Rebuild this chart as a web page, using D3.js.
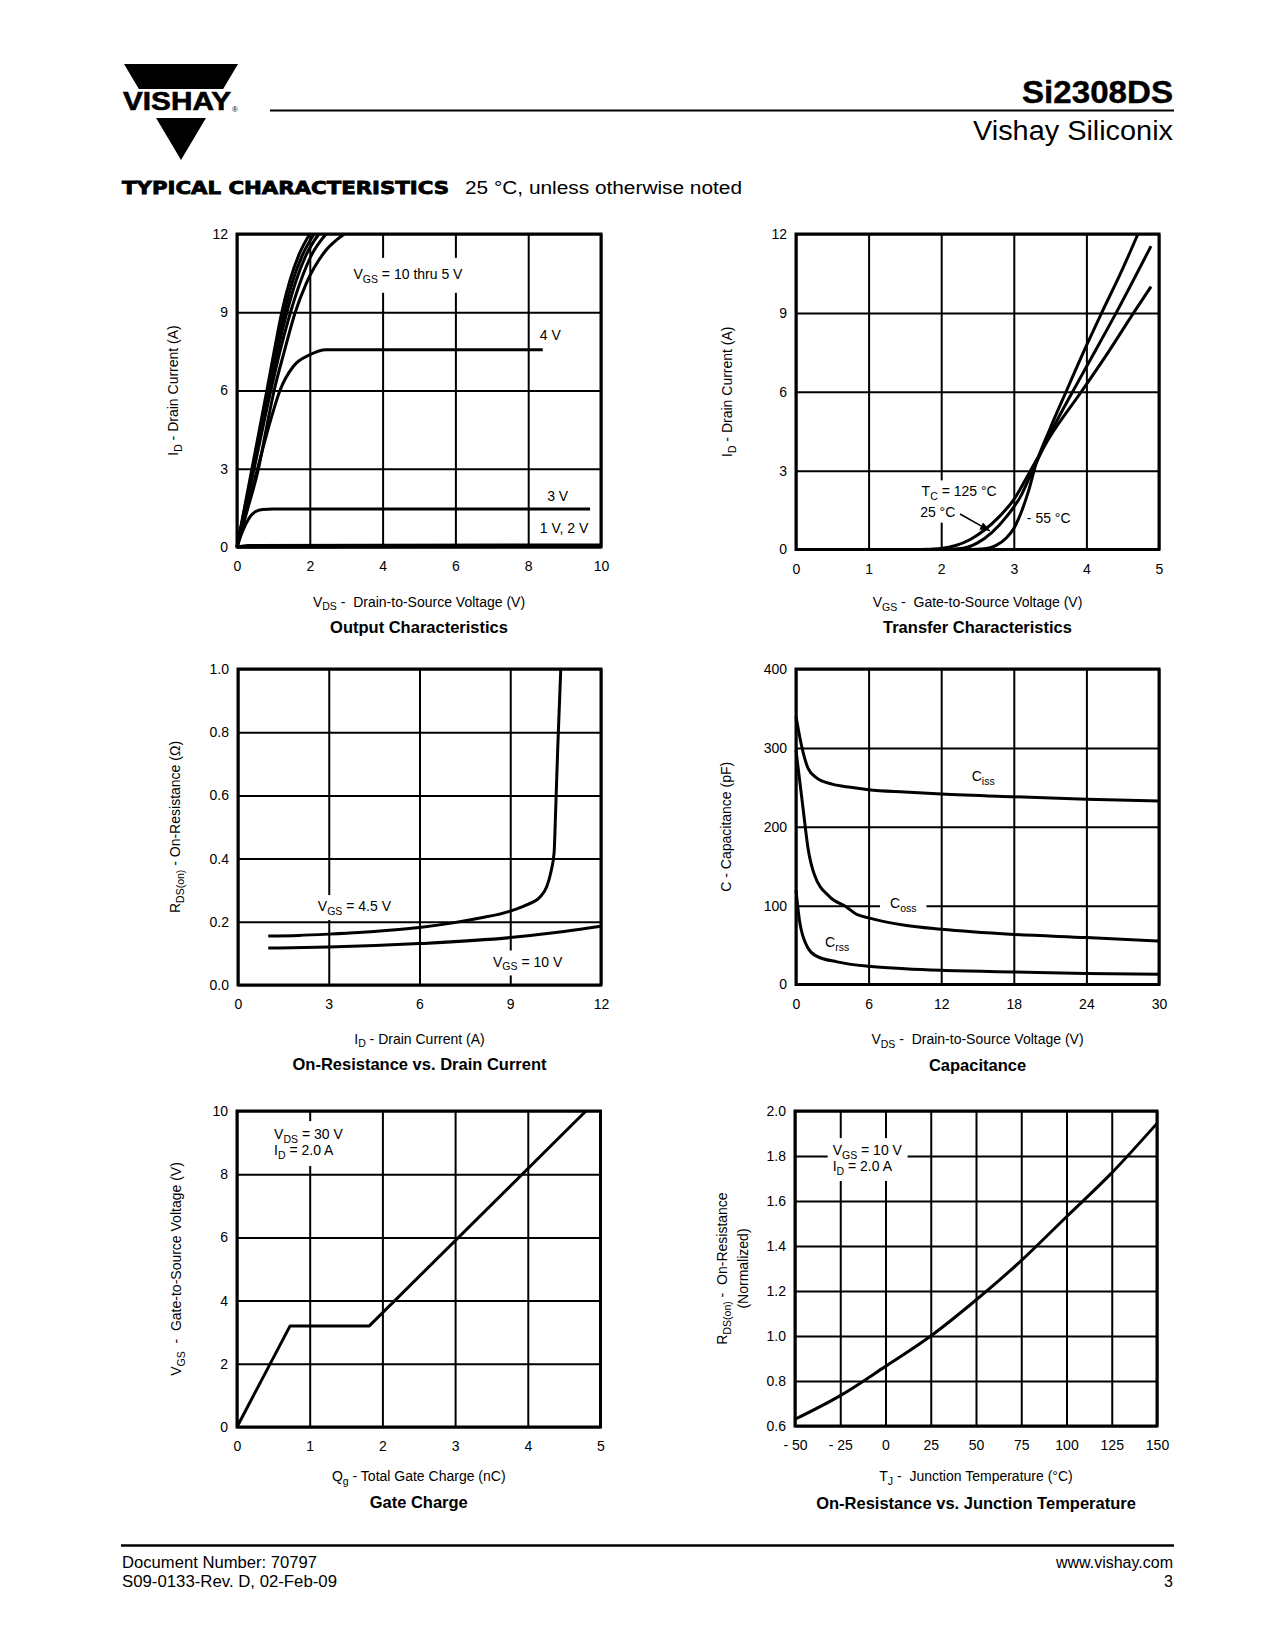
<!DOCTYPE html>
<html>
<head>
<meta charset="utf-8">
<script src="https://cdn.jsdelivr.net/npm/d3@7"></script>
<style>
  body { margin: 0; background: #fff; }
  svg text { font-family: "Liberation Sans", Arial, Helvetica, sans-serif; fill: #000; }
</style>
</head>
<body>
<div id="page"></div>
<script>
// values

// Output Characteristics: [V_DS (V), I_D (A)]
var outTicksX = [0, 2, 4, 6, 8, 10];
var outTicksY = [0, 3, 6, 9, 12];
var outVgs10 = [[0, 0], [0.41, 3], [0.82, 6], [1.02, 7.5], [1.23, 9], [1.45, 10.2], [1.7, 11.2], [2.0, 12]];
var outVgs8 = [[0, 0], [0.43, 3], [0.85, 6], [1.07, 7.5], [1.3, 9], [1.53, 10.2], [1.8, 11.2], [2.12, 12]];
var outVgs7 = [[0, 0], [0.45, 3], [0.88, 6], [1.11, 7.5], [1.37, 9], [1.62, 10.2], [1.9, 11.2], [2.25, 12]];
var outVgs6 = [[0, 0], [0.47, 3], [0.93, 6], [1.18, 7.5], [1.47, 9], [1.75, 10.2], [2.05, 11.2], [2.45, 12]];
var outVgs5 = [[0, 0], [0.3, 1.5], [0.59, 3], [0.8, 4.5], [1.02, 6], [1.3, 7.5], [1.6, 9], [1.9, 10.1], [2.4, 11.3], [2.95, 12]];
var outVgs4 = [[0, 0], [0.3, 1.6], [0.62, 3.3], [0.91, 4.8], [1.18, 6.0], [1.55, 6.93], [2.0, 7.37], [2.45, 7.56], [8.4, 7.56]];
var outVgs3 = [[0, 0], [0.15, 0.6], [0.32, 1.08], [0.5, 1.35], [0.7, 1.44], [1.0, 1.46], [9.7, 1.46]];
var outVgs2 = [[0, 0], [0.3, 0.06], [10, 0.08]];
var outVgs1 = [[0, 0], [10, 0.02]];

// Transfer Characteristics: [V_GS (V), I_D (A)]
var trTicksX = [0, 1, 2, 3, 4, 5];
var trTicksY = [0, 3, 6, 9, 12];
var trTc125 = [[0, 0], [1.7, 0], [2.0, 0.04], [2.2, 0.15], [2.4, 0.38], [2.6, 0.75], [2.8, 1.25], [3.0, 1.9], [3.22, 2.95], [3.5, 4.3], [3.93, 6], [4.3, 7.5], [4.65, 9], [4.89, 10.0]];
var trTc25 = [[0, 0], [2.0, 0], [2.3, 0.05], [2.5, 0.25], [2.7, 0.65], [2.9, 1.25], [3.1, 2.05], [3.25, 2.95], [3.5, 4.4], [3.81, 6], [4.0, 6.95], [4.41, 9], [4.89, 11.54]];
var trTcM55 = [[0, 0], [2.4, 0], [2.6, 0.03], [2.75, 0.15], [2.9, 0.45], [3.0, 0.8], [3.1, 1.4], [3.2, 2.2], [3.3, 3.2], [3.5, 4.6], [3.72, 6], [4.0, 7.75], [4.21, 9], [4.47, 10.5], [4.71, 12]];

// On-Resistance vs. Drain Current: [I_D (A), R_DS(on) (ohm)]
var ronTicksX = [0, 3, 6, 9, 12];
var ronTicksY = [0, 0.2, 0.4, 0.6, 0.8, 1.0];
var ronVgs45 = [[1, 0.155], [2, 0.157], [3, 0.161], [4, 0.166], [5, 0.173], [6, 0.182], [7, 0.195], [8, 0.212], [9, 0.234], [9.5, 0.252], [10, 0.28], [10.2, 0.31], [10.35, 0.36], [10.45, 0.42], [10.5, 0.55], [10.57, 0.75], [10.67, 1.0]];
var ronVgs10 = [[1, 0.117], [3, 0.12], [6, 0.131], [9, 0.15], [10.5, 0.166], [12, 0.186]];

// Capacitance: [V_DS (V), C (pF)]
var capTicksX = [0, 6, 12, 18, 24, 30];
var capTicksY = [0, 100, 200, 300, 400];
var capCiss = [[0, 340], [0.5, 300], [1, 274], [1.7, 262], [3, 254], [4.5, 250], [6, 247], [9, 244], [12, 241.5], [18, 238], [24, 235], [30, 232.5]];
var capCoss = [[0, 297], [0.6, 221], [1, 172], [1.5, 140], [2.8, 111], [4.2, 98], [5, 89], [6, 84.5], [9, 75], [12, 70], [18, 63.5], [24, 59.5], [30, 55]];
var capCrss = [[0, 120], [0.3, 80], [1, 46], [1.7, 36], [3.4, 28.7], [6, 23], [9, 20], [12, 18], [18, 16], [24, 14], [30, 13]];

// Gate Charge: [Q_g (nC), V_GS (V)]
var qgTicksX = [0, 1, 2, 3, 4, 5];
var qgTicksY = [0, 2, 4, 6, 8, 10];
var qgCurve = [[0, 0], [0.73, 3.2], [1.82, 3.2], [4.8, 10]];

// On-Resistance vs. Junction Temperature: [T_J (C), R_DS(on) normalized]
var tjTicksX = [-50, -25, 0, 25, 50, 75, 100, 125, 150];
var tjTicksY = [0.6, 0.8, 1.0, 1.2, 1.4, 1.6, 1.8, 2.0];
var tjCurve = [[-50, 0.63], [-25, 0.735], [0, 0.865], [25, 1.0], [50, 1.16], [75, 1.335], [100, 1.53], [125, 1.725], [150, 1.945]];

var fmt1 = d3.format(".1f");

var charts = [
  {
    left: 237, top: 234, right: 601, bottom: 547,
    xDomain: [0, 10], yDomain: [0, 12], xTicks: outTicksX, yTicks: outTicksY,
    series: [outVgs10, outVgs8, outVgs7, outVgs6, outVgs5, outVgs4, outVgs3, outVgs2, outVgs1],
    xLabel: "V_{DS} -  Drain-to-Source Voltage (V)", xLabelY: 601.5,
    yLabel: ["I_{D} - Drain Current (A)"], yLabelX: [173],
    title: "Output Characteristics", titleY: 627,
    notes: [
      { lines: ["V_{GS} = 10 thru 5 V"], x: 3.2, y: 10.28, pad: [5, 8] },
      { lines: ["4 V"], x: 8.32, y: 7.94 },
      { lines: ["3 V"], x: 8.52, y: 1.76 },
      { lines: ["1 V, 2 V"], x: 8.32, y: 0.54 }
    ]
  },
  {
    left: 796, top: 234, right: 1159, bottom: 549.5,
    xDomain: [0, 5], yDomain: [0, 12], xTicks: trTicksX, yTicks: trTicksY,
    series: [trTc125, trTc25, trTcM55],
    xLabel: "V_{GS} -  Gate-to-Source Voltage (V)", xLabelY: 602,
    yLabel: ["I_{D} - Drain Current (A)"], yLabelX: [727],
    title: "Transfer Characteristics", titleY: 627,
    notes: [
      { lines: ["T_{C} = 125 °C"], x: 1.73, y: 2.02, pad: [3, 3] },
      { lines: ["25 °C"], x: 1.71, y: 1.25, pad: [3, 3] },
      { lines: ["- 55 °C"], x: 3.18, y: 1.0 }
    ],
    arrows: [{ from: [2.26, 1.35], to: [2.67, 0.71] }]
  },
  {
    left: 238, top: 669, right: 601, bottom: 985,
    xDomain: [0, 12], yDomain: [0, 1.0], xTicks: ronTicksX, yTicks: ronTicksY, yFormat: fmt1,
    series: [ronVgs45, ronVgs10],
    xLabel: "I_{D} - Drain Current (A)", xLabelY: 1038.5,
    yLabel: ["R_{DS(on)} - On-Resistance (Ω)"], yLabelX: [175],
    title: "On-Resistance vs. Drain Current", titleY: 1064,
    notes: [
      { lines: ["V_{GS} = 4.5 V"], x: 2.64, y: 0.234, pad: [3, 3] },
      { lines: ["V_{GS} = 10 V"], x: 8.43, y: 0.0585, pad: [3, 3] }
    ]
  },
  {
    left: 796, top: 669, right: 1159, bottom: 984.5,
    xDomain: [0, 30], yDomain: [0, 400], xTicks: capTicksX, yTicks: capTicksY,
    series: [capCiss, capCoss, capCrss],
    xLabel: "V_{DS} -  Drain-to-Source Voltage (V)", xLabelY: 1039,
    yLabel: ["C - Capacitance (pF)"], yLabelX: [726],
    title: "Capacitance", titleY: 1065,
    notes: [
      { lines: ["C_{iss}"], x: 14.52, y: 257.8 },
      { lines: ["C_{oss}"], x: 7.77, y: 97.1, pad: [10, 3] },
      { lines: ["C_{rss}"], x: 2.4, y: 47 }
    ]
  },
  {
    left: 237, top: 1111, right: 600.5, bottom: 1427,
    xDomain: [0, 5], yDomain: [0, 10], xTicks: qgTicksX, yTicks: qgTicksY,
    series: [qgCurve], linear: true,
    xLabel: "Q_{g} - Total Gate Charge (nC)", xLabelY: 1476,
    yLabel: ["V_{GS}  -  Gate-to-Source Voltage (V)"], yLabelX: [176],
    title: "Gate Charge", titleY: 1502,
    notes: [
      { lines: ["V_{DS} = 30 V", "I_{D} = 2.0 A"], x: 0.51, y: 9.11, pad: [4, 5] }
    ]
  },
  {
    left: 795, top: 1111, right: 1157, bottom: 1426,
    xDomain: [-50, 150], yDomain: [0.6, 2.0], xTicks: tjTicksX, yTicks: tjTicksY, yFormat: fmt1,
    xFormat: function (d) { return d < 0 ? "- " + (-d) : String(d); },
    series: [tjCurve],
    xLabel: "T_{J} -  Junction Temperature (°C)", xLabelY: 1476,
    yLabel: ["R_{DS(on)} -  On-Resistance", "(Normalized)"], yLabelX: [722, 743],
    title: "On-Resistance vs. Junction Temperature", titleY: 1503,
    notes: [
      { lines: ["V_{GS} = 10 V", "I_{D} = 2.0 A"], x: -29.2, y: 1.804, pad: [5, 4] }
    ]
  }
];

// text with "_{...}" subscripts
function rich(sel, str, size) {
  var parts = str.split(/(_\{[^}]*\})/);
  var down = false;
  parts.forEach(function (p) {
    if (!p) return;
    if (p.indexOf("_{") === 0) {
      sel.append("tspan").attr("font-size", size * 0.75).attr("dy", size * 0.28).text(p.slice(2, -1));
      down = true;
    } else {
      sel.append("tspan").attr("font-size", size).attr("dy", down ? -size * 0.28 : null).text(p);
      down = false;
    }
  });
}

var svg = d3.select("#page").append("svg")
  .attr("width", 1275).attr("height", 1650).style("display", "block");
svg.append("rect").attr("width", 1275).attr("height", 1650).attr("fill", "#fff");

svg.append("defs").append("marker")
  .attr("id", "arrow").attr("markerUnits", "userSpaceOnUse")
  .attr("markerWidth", 10).attr("markerHeight", 8)
  .attr("refX", 10).attr("refY", 4).attr("orient", "auto")
  .append("path").attr("d", "M0,0 L10,4 L0,8 Z").attr("fill", "#000");

// header
var logo = svg.append("g");
logo.append("path").attr("d", "M124,64 L238,64 L181,160 Z").attr("fill", "#000");
logo.append("rect").attr("x", 116).attr("y", 89).attr("width", 130).attr("height", 29).attr("fill", "#fff");
logo.append("text").attr("x", 123).attr("y", 109.5)
  .attr("font-size", 25).attr("font-weight", "bold")
  .attr("stroke", "#000").attr("stroke-width", 0.6)
  .attr("textLength", 108).attr("lengthAdjust", "spacingAndGlyphs").text("VISHAY");
logo.append("text").attr("x", 232).attr("y", 112).attr("font-size", 8).text("®");

svg.append("line").attr("x1", 270).attr("x2", 1174).attr("y1", 110.5).attr("y2", 110.5)
  .attr("stroke", "#000").attr("stroke-width", 2);
svg.append("text").attr("x", 1022).attr("y", 103).attr("font-size", 31).attr("font-weight", "bold")
  .attr("stroke", "#000").attr("stroke-width", 0.4)
  .attr("textLength", 151).attr("lengthAdjust", "spacingAndGlyphs").text("Si2308DS");
svg.append("text").attr("x", 973).attr("y", 140).attr("font-size", 27)
  .attr("textLength", 200).attr("lengthAdjust", "spacingAndGlyphs").text("Vishay Siliconix");
svg.append("text").attr("x", 122).attr("y", 194).attr("font-size", 17).attr("font-weight", "bold")
  .style("font-family", "'DejaVu Sans', sans-serif")
  .attr("stroke", "#000").attr("stroke-width", 0.8)
  .attr("textLength", 327).attr("lengthAdjust", "spacingAndGlyphs").text("TYPICAL CHARACTERISTICS");
svg.append("text").attr("x", 465).attr("y", 194).attr("font-size", 18)
  .attr("textLength", 277).attr("lengthAdjust", "spacingAndGlyphs").text("25 °C, unless otherwise noted");

// footer
svg.append("line").attr("x1", 121).attr("x2", 1174).attr("y1", 1545.5).attr("y2", 1545.5)
  .attr("stroke", "#000").attr("stroke-width", 2.5);
svg.append("text").attr("x", 122).attr("y", 1568).attr("font-size", 16)
  .attr("textLength", 195).attr("lengthAdjust", "spacingAndGlyphs").text("Document Number: 70797");
svg.append("text").attr("x", 122).attr("y", 1587).attr("font-size", 16)
  .attr("textLength", 215).attr("lengthAdjust", "spacingAndGlyphs").text("S09-0133-Rev. D, 02-Feb-09");
svg.append("text").attr("x", 1173).attr("y", 1568).attr("font-size", 16)
  .attr("text-anchor", "end").text("www.vishay.com");
svg.append("text").attr("x", 1173).attr("y", 1587).attr("font-size", 16)
  .attr("text-anchor", "end").text("3");

function drawChart(c) {
  var w = c.right - c.left;
  var h = c.bottom - c.top;
  var x = d3.scaleLinear().domain(c.xDomain).range([c.left, c.right]);
  var y = d3.scaleLinear().domain(c.yDomain).range([c.bottom, c.top]);
  var g = svg.append("g");

  var gx = g.append("g")
    .attr("transform", "translate(0," + c.bottom + ")")
    .call(d3.axisBottom(x).tickValues(c.xTicks).tickSize(-h).tickPadding(14.5)
      .tickFormat(c.xFormat || String));
  var gy = g.append("g")
    .attr("transform", "translate(" + c.left + ",0)")
    .call(d3.axisLeft(y).tickValues(c.yTicks).tickSize(-w).tickPadding(9)
      .tickFormat(c.yFormat || String));
  [gx, gy].forEach(function (a) {
    a.attr("font-family", null).attr("font-size", null);
    a.select(".domain").remove();
    a.selectAll("line").attr("stroke", "#000").attr("stroke-width", 2);
    a.selectAll("text").attr("font-size", 14).attr("fill", "#000");
  });

  var bgLayer = g.append("g");
  var curveLayer = g.append("g");
  var noteLayer = g.append("g");

  c.notes.forEach(function (n) {
    var ng = noteLayer.append("g");
    n.lines.forEach(function (s, i) {
      var t = ng.append("text")
        .attr("x", x(n.x)).attr("y", y(n.y) + i * 16)
        .attr("font-size", 14).style("white-space", "pre");
      rich(t, s, 14);
    });
    if (n.pad) {
      var b = ng.node().getBBox();
      bgLayer.append("rect")
        .attr("x", b.x - n.pad[0]).attr("y", b.y - n.pad[1])
        .attr("width", b.width + 2 * n.pad[0]).attr("height", b.height + 2 * n.pad[1])
        .attr("fill", "#fff");
    }
  });

  var line = d3.line()
    .x(function (d) { return x(d[0]); })
    .y(function (d) { return y(d[1]); })
    .curve(c.linear ? d3.curveLinear : d3.curveMonotoneX);

  curveLayer.selectAll("path")
    .data(c.series)
    .enter()
    .append("path")
    .attr("d", line)
    .attr("fill", "none")
    .attr("stroke", "#000")
    .attr("stroke-width", 3)
    .attr("stroke-linejoin", "round");

  (c.arrows || []).forEach(function (a) {
    noteLayer.append("line")
      .attr("x1", x(a.from[0])).attr("y1", y(a.from[1]))
      .attr("x2", x(a.to[0])).attr("y2", y(a.to[1]))
      .attr("stroke", "#000").attr("stroke-width", 1.5)
      .attr("marker-end", "url(#arrow)");
  });

  g.append("rect")
    .attr("x", c.left).attr("y", c.top).attr("width", w).attr("height", h)
    .attr("fill", "none").attr("stroke", "#000").attr("stroke-width", 3);

  var xl = svg.append("text")
    .attr("x", (c.left + c.right) / 2).attr("y", c.xLabelY + 5)
    .attr("text-anchor", "middle").attr("font-size", 14).style("white-space", "pre");
  rich(xl, c.xLabel, 14);

  c.yLabel.forEach(function (s, i) {
    var yl = svg.append("text")
      .attr("transform", "translate(" + c.yLabelX[i] + "," + (c.top + c.bottom) / 2 + ") rotate(-90)")
      .attr("y", 5).attr("text-anchor", "middle").attr("font-size", 14).style("white-space", "pre");
    rich(yl, s, 14);
  });

  svg.append("text")
    .attr("x", (c.left + c.right) / 2).attr("y", c.titleY + 6)
    .attr("text-anchor", "middle").attr("font-size", 16.5).attr("font-weight", "bold")
    .text(c.title);
}

charts.forEach(drawChart);
</script>
</body>
</html>
